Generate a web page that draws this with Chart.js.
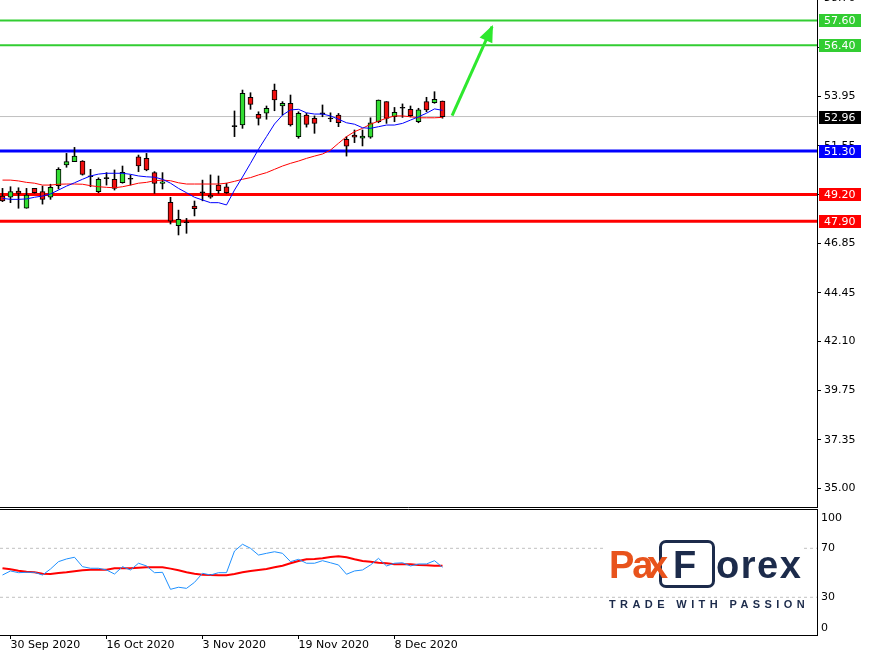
<!DOCTYPE html>
<html>
<head>
<meta charset="utf-8">
<title>Daily chart with levels</title>
<script src="https://cdn.jsdelivr.net/npm/chart.js@4.4.1/dist/chart.umd.min.js"></script>
<style>
  html, body { margin: 0; padding: 0; background: #fff; }
  #wrap { position: relative; width: 869px; height: 654px; overflow: hidden; background: #fff; }
  #mainChart { position: absolute; left: 0; top: 0; }
  #subChart { position: absolute; left: 0; top: 508px; }
  #logoBg { position: absolute; left: 604px; top: 538px; width: 198px; height: 52px; background: #fff; }
  .lg { position: absolute; font-family: "Liberation Sans", Arial, sans-serif; font-weight: bold;
        font-size: 38px; line-height: 38px; white-space: nowrap; }
  .pa { left: 609px; top: 546px; color: #e8531c; letter-spacing: -2px; }
  .px { left: 647px; top: 546px; color: #e8531c; }
  .fbox { position: absolute; left: 659px; top: 540px; width: 50px; height: 42px;
          border: 3px solid #1c2b4b; border-radius: 7px; }
  .ff { left: 673px; top: 546px; color: #1c2b4b; }
  .orex { left: 716px; top: 546px; color: #1c2b4b; letter-spacing: 1.5px; }
  .tag { position: absolute; left: 609px; top: 599px; font-family: "Liberation Sans", Arial, sans-serif;
         font-weight: bold; font-size: 11px; line-height: 11px; letter-spacing: 4.4px; color: #1c2b4b; white-space: nowrap; }
</style>
</head>
<body>
<div id="wrap">
  <canvas id="mainChart" width="869" height="508"></canvas>
  <canvas id="subChart" width="869" height="146"></canvas>
  <div id="logoBg"></div>
  <span class="fbox"></span>
  <span class="lg pa">Pa</span><span class="lg px">x</span>
  <span class="lg ff">F</span><span class="lg orex">orex</span>
  <span class="tag">TRADE WITH PASSION</span>
</div>
<script>
// trading days shown on the chart
const days = ['29 Sep','30 Sep','1 Oct','2 Oct','5 Oct','6 Oct','7 Oct','8 Oct','9 Oct','12 Oct','13 Oct','14 Oct','15 Oct','16 Oct',
  '19 Oct','20 Oct','21 Oct','22 Oct','23 Oct','26 Oct','27 Oct','28 Oct','29 Oct','30 Oct','2 Nov','3 Nov',
  '4 Nov','5 Nov','6 Nov','9 Nov','10 Nov','11 Nov','12 Nov','13 Nov','16 Nov','17 Nov','18 Nov','19 Nov',
  '20 Nov','23 Nov','24 Nov','25 Nov','27 Nov','30 Nov','1 Dec','2 Dec','3 Dec','4 Dec','7 Dec','8 Dec',
  '9 Dec','10 Dec','11 Dec','14 Dec','15 Dec','16 Dec'];

const opens = [49.12, 49.06, 49.36, 48.53, 49.49, 49.33, 49.06, 49.62, 50.62, 50.78,
  50.81, 50.08, 49.33, 50.00, 49.93, 49.76, 49.94, 51.02, 50.94, 50.25,
  49.73, 48.82, 47.69, 47.83, 48.64, 49.28, 49.17, 49.65, 49.57, 52.47,
  52.55, 53.89, 53.07, 53.12, 54.24, 53.47, 53.60, 51.99, 53.03, 52.87,
  53.14, 52.84, 53.03, 51.86, 52.07, 51.91, 51.96, 52.71, 53.68, 52.95,
  53.36, 53.31, 52.71, 53.68, 53.63, 53.71];
const highs = [49.49, 49.57, 49.52, 49.49, 49.49, 49.60, 49.69, 50.49, 51.18, 51.47,
  50.83, 50.41, 50.00, 50.25, 50.38, 50.57, 50.14, 51.10, 51.18, 50.30,
  50.25, 49.06, 48.44, 48.04, 48.88, 49.89, 50.14, 50.09, 49.74, 53.23,
  54.24, 54.11, 53.19, 53.47, 54.53, 53.68, 54.00, 53.19, 53.12, 52.99,
  53.52, 53.14, 53.11, 51.99, 52.31, 52.31, 52.90, 53.76, 53.68, 53.40,
  53.57, 53.47, 53.36, 53.89, 54.16, 53.71];
const lows = [48.85, 48.80, 48.53, 48.53, 49.26, 48.73, 48.96, 49.46, 50.51, 50.78,
  50.13, 49.57, 49.28, 49.65, 49.41, 49.74, 49.65, 50.30, 50.34, 49.25,
  49.46, 47.77, 47.24, 47.32, 48.16, 48.89, 49.01, 49.25, 49.25, 51.99,
  52.39, 53.31, 52.55, 52.83, 53.24, 53.03, 52.50, 51.91, 52.45, 52.15,
  52.95, 52.71, 52.47, 51.05, 51.70, 51.54, 51.91, 52.66, 52.63, 52.71,
  52.92, 52.94, 52.66, 53.19, 53.60, 52.88];
const closes = [48.89, 49.33, 49.25, 49.17, 49.28, 48.96, 49.54, 50.41, 50.78, 51.05,
  50.17, 50.05, 49.93, 49.96, 49.49, 50.27, 49.93, 50.57, 50.38, 49.73,
  49.81, 47.91, 47.99, 47.85, 48.51, 49.29, 49.06, 49.38, 49.28, 52.48,
  54.08, 53.55, 52.87, 53.36, 53.76, 53.60, 52.55, 53.12, 52.58, 52.63,
  53.08, 52.85, 52.66, 51.53, 51.96, 52.02, 52.66, 53.76, 52.87, 53.16,
  53.37, 53.00, 53.28, 53.28, 53.79, 52.96];

// moving averages on the price window
const maFast = [49.01, 48.96, 48.96, 48.98, 49.06, 49.12, 49.22, 49.41, 49.60, 49.76,
  49.93, 50.09, 50.18, 50.22, 50.22, 50.22, 50.17, 50.09, 50.05, 50.03,
  49.93, 49.74, 49.49, 49.28, 49.06, 48.93, 48.80, 48.80, 48.69, 49.41,
  50.04, 50.70, 51.38, 51.99, 52.60, 53.03, 53.28, 53.31, 53.14, 53.08,
  53.08, 52.99, 52.83, 52.66, 52.59, 52.42, 52.39, 52.47, 52.55, 52.55,
  52.63, 52.79, 52.95, 53.12, 53.33, 53.26];
const maSlow = [49.89, 49.89, 49.85, 49.78, 49.74, 49.65, 49.65, 49.69, 49.70, 49.70,
  49.69, 49.62, 49.57, 49.54, 49.52, 49.57, 49.65, 49.74, 49.78, 49.86,
  49.89, 49.86, 49.76, 49.70, 49.70, 49.70, 49.70, 49.70, 49.74, 49.83,
  49.93, 50.01, 50.14, 50.25, 50.41, 50.57, 50.70, 50.81, 50.94, 51.05,
  51.15, 51.34, 51.67, 51.99, 52.23, 52.39, 52.59, 52.74, 52.88, 52.99,
  52.99, 52.95, 52.90, 52.90, 52.90, 52.92];

// oscillator window
const rsi = [48.2, 51.5, 50.1, 50.4, 50.4, 48.2, 53.1, 59.1, 61.3, 62.7,
  55.0, 53.7, 53.7, 52.3, 49.0, 55.0, 52.3, 57.8, 55.6, 50.1,
  50.4, 36.5, 38.2, 37.3, 42.2, 49.6, 48.2, 50.1, 50.1, 67.8,
  73.3, 70.0, 64.5, 65.9, 67.2, 65.9, 59.1, 61.0, 57.8, 57.8,
  59.9, 58.2, 56.4, 48.8, 51.5, 52.3, 56.4, 61.8, 55.6, 57.8,
  58.2, 55.6, 57.2, 57.2, 59.9, 54.5];
const rsiSignal = [53.7, 52.9, 51.6, 50.9, 50.4, 49.3, 49.0, 49.8, 50.4, 51.2,
  52.0, 52.5, 52.5, 52.5, 53.7, 53.7, 53.7, 54.2, 54.5, 54.5,
  54.5, 53.4, 52.0, 50.4, 49.3, 48.5, 48.2, 48.0, 48.0, 49.0,
  50.4, 51.5, 52.3, 53.1, 54.5, 55.8, 57.8, 59.6, 61.0, 61.3,
  61.8, 62.9, 63.5, 62.7, 61.0, 59.6, 59.1, 58.2, 57.8, 56.9,
  56.9, 56.9, 56.4, 56.1, 55.8, 55.8];

// horizontal levels, last price, projected move
const levelValues = [57.60, 56.40, 51.30, 49.20, 47.90];
const lastPrice = 52.96;
const arrowFrom = { x: 56.2, y: 53.0 };
const arrowTo = { x: 61.2, y: 57.3 };

// axis ticks
const priceTicks = [35.00, 37.35, 39.75, 42.10, 44.45, 46.85, 49.20, 51.55, 53.95, 56.30, 58.70];
const oscTicks = [100, 70, 30, 0];
const oscLevels = [70, 30];
const dateTicks = ['30 Sep 2020', '16 Oct 2020', '3 Nov 2020', '19 Nov 2020', '8 Dec 2020'];
const dateTickIdx = dateTicks.map(t => days.indexOf(t.replace(' 2020', '')));

// styles
const levelColors = ['#32cd32', '#32cd32', '#0000ff', '#ff0000', '#ff0000'];
const levelWidths = [2, 2, 3, 3, 3];
const bullColor = '#33dd33', bearColor = '#f01010';
const arrowColor = '#2ee82e';
const X_MIN = -0.3125, X_MAX = 101.8125;
const FONT = { family: 'DejaVu Sans', size: 11 };

Chart.defaults.font.family = 'DejaVu Sans';

function bodyColor(i) {
    const d = closes[i] - opens[i];
    if (Math.abs(d) < 0.07) return '#000';
    return d > 0 ? bullColor : bearColor;
}

function hline(v, color, width, dash) {
    return {
        type: 'line', data: [{ x: X_MIN, y: v }, { x: X_MAX, y: v }],
        borderColor: color, borderWidth: width, borderDash: dash || [],
        pointRadius: 0, order: 6
    };
}

const mainDatasets = [];
levelValues.forEach((v, k) => mainDatasets.push(hline(v, levelColors[k], levelWidths[k])));
mainDatasets.push(hline(lastPrice, '#c0c0c0', 1));
mainDatasets.push({
    type: 'bar', data: days.map((d, i) => ({ x: i, y: [lows[i], highs[i]] })),
    backgroundColor: '#000', barThickness: 1, grouped: false, order: 4
});
mainDatasets.push({
    type: 'bar', data: days.map((d, i) => ({ x: i, y: [opens[i], closes[i]] })),
    backgroundColor: days.map((d, i) => bodyColor(i)), borderColor: '#000', borderWidth: 1,
    borderSkipped: false, barThickness: 5, minBarLength: 1, grouped: false, order: 3
});
mainDatasets.push({
    type: 'line', data: maSlow.map((v, i) => ({ x: i, y: v })),
    borderColor: '#ff0000', borderWidth: 1, pointRadius: 0, order: 2
});
mainDatasets.push({
    type: 'line', data: maFast.map((v, i) => ({ x: i, y: v })),
    borderColor: '#0000ff', borderWidth: 1, pointRadius: 0, order: 1
});
mainDatasets.push({
    type: 'line', data: [arrowFrom, arrowTo],
    borderColor: arrowColor, borderWidth: 3, pointRadius: 0, order: 0
});
const arrowIndex = mainDatasets.length - 1;

const mainOverlay = {
    id: 'mainOverlay',
    afterDraw(chart) {
        const { ctx, chartArea, scales } = chart;
        ctx.save();
        // frame under the price window
        ctx.strokeStyle = '#000';
        ctx.lineWidth = 1;
        ctx.beginPath();
        ctx.moveTo(0, chartArea.bottom - 0.5);
        ctx.lineTo(chartArea.right + 0.5, chartArea.bottom - 0.5);
        ctx.stroke();

        // arrow head
        const pts = chart.getDatasetMeta(arrowIndex).data;
        const p0 = pts[0], p1 = pts[1];
        const a = Math.atan2(p1.y - p0.y, p1.x - p0.x);
        const len = 15, half = 7;
        ctx.fillStyle = arrowColor;
        ctx.beginPath();
        ctx.moveTo(p1.x + 2 * Math.cos(a), p1.y + 2 * Math.sin(a));
        ctx.lineTo(p1.x - len * Math.cos(a) + half * Math.sin(a), p1.y - len * Math.sin(a) - half * Math.cos(a));
        ctx.lineTo(p1.x - len * Math.cos(a) - half * Math.sin(a), p1.y - len * Math.sin(a) + half * Math.cos(a));
        ctx.closePath();
        ctx.fill();

        // price tags on the axis
        const tags = levelValues.map((v, k) => ({ v: v, c: levelColors[k] }));
        tags.push({ v: lastPrice, c: '#000' });
        ctx.font = '11px "DejaVu Sans"';
        ctx.textAlign = 'left';
        ctx.textBaseline = 'middle';
        tags.forEach(t => {
            const py = Math.round(scales.y.getPixelForValue(t.v));
            ctx.fillStyle = t.c;
            ctx.fillRect(chartArea.right + 2, py - 6, 42, 13);
            ctx.fillStyle = '#fff';
            ctx.fillText(t.v.toFixed(2), chartArea.right + 7, py + 1);
        });
        ctx.restore();
    }
};

new Chart(document.getElementById('mainChart'), {
    type: 'bar',
    data: { datasets: mainDatasets },
    options: {
        animation: false, responsive: false, devicePixelRatio: 1, events: [],
        layout: { padding: 0 },
        plugins: { legend: { display: false }, tooltip: { enabled: false } },
        scales: {
            x: { type: 'linear', min: X_MIN, max: X_MAX, offset: false, display: false },
            y: {
                type: 'linear', position: 'right', min: 34.05, max: 58.59,
                afterBuildTicks: s => { s.ticks = priceTicks.map(v => ({ value: v })); },
                afterFit: s => { s.width = 52; s.paddingTop = 0; s.paddingBottom = 0; },
                grid: { display: true, drawOnChartArea: false, drawTicks: true, tickLength: 4, color: '#000' },
                border: { display: true, color: '#000', width: 1 },
                ticks: { callback: v => Number(v).toFixed(2), color: '#000', font: FONT, padding: 3 }
            }
        }
    },
    plugins: [mainOverlay]
});

const subOverlay = {
    id: 'subOverlay',
    afterDraw(chart) {
        const { ctx, chartArea, scales } = chart;
        ctx.save();
        ctx.strokeStyle = '#000';
        ctx.lineWidth = 1;
        ctx.beginPath();
        ctx.moveTo(0, chartArea.top + 0.5);
        ctx.lineTo(chartArea.right + 0.5, chartArea.top + 0.5);
        ctx.stroke();
        ctx.font = '11px "DejaVu Sans"';
        ctx.fillStyle = '#000';
        ctx.textAlign = 'left';
        ctx.textBaseline = 'middle';
        oscTicks.forEach(v => {
            let py = scales.y.getPixelForValue(v);
            py = Math.min(Math.max(py, chartArea.top + 9), chartArea.bottom - 7);
            ctx.fillText(String(v), chartArea.right + 4, py);
        });
        ctx.restore();
    }
};

const subDatasets = oscLevels.map(v => hline(v, '#c0c0c0', 1, [3, 3]));
subDatasets.push({
    type: 'line', data: rsiSignal.map((v, i) => ({ x: i, y: v })),
    borderColor: '#ff0000', borderWidth: 2, pointRadius: 0, order: 2
});
subDatasets.push({
    type: 'line', data: rsi.map((v, i) => ({ x: i, y: v })),
    borderColor: '#1e90ff', borderWidth: 1, pointRadius: 0, order: 1
});

new Chart(document.getElementById('subChart'), {
    type: 'line',
    data: { datasets: subDatasets },
    options: {
        animation: false, responsive: false, devicePixelRatio: 1, events: [],
        layout: { padding: { top: 1, left: 0, right: 0, bottom: 0 } },
        plugins: { legend: { display: false }, tooltip: { enabled: false } },
        scales: {
            x: {
                type: 'linear', position: 'bottom', min: X_MIN, max: X_MAX,
                afterBuildTicks: s => { s.ticks = dateTickIdx.map(v => ({ value: v })); },
                afterFit: s => { s.height = 19; s.paddingLeft = 0; s.paddingRight = 0; },
                grid: { display: true, drawOnChartArea: false, drawTicks: true, tickLength: 4, color: '#000' },
                border: { display: true, color: '#000', width: 1 },
                ticks: {
                    callback: v => dateTicks[dateTickIdx.indexOf(v)],
                    align: 'start', maxRotation: 0, autoSkip: false, padding: 0, color: '#000', font: FONT
                }
            },
            y: {
                type: 'linear', position: 'right', min: -0.8, max: 102.1,
                afterFit: s => { s.width = 52; s.paddingTop = 0; s.paddingBottom = 0; },
                grid: { display: false },
                border: { display: true, color: '#000', width: 1 },
                ticks: { display: false }
            }
        }
    },
    plugins: [subOverlay]
});
</script>
</body>
</html>
